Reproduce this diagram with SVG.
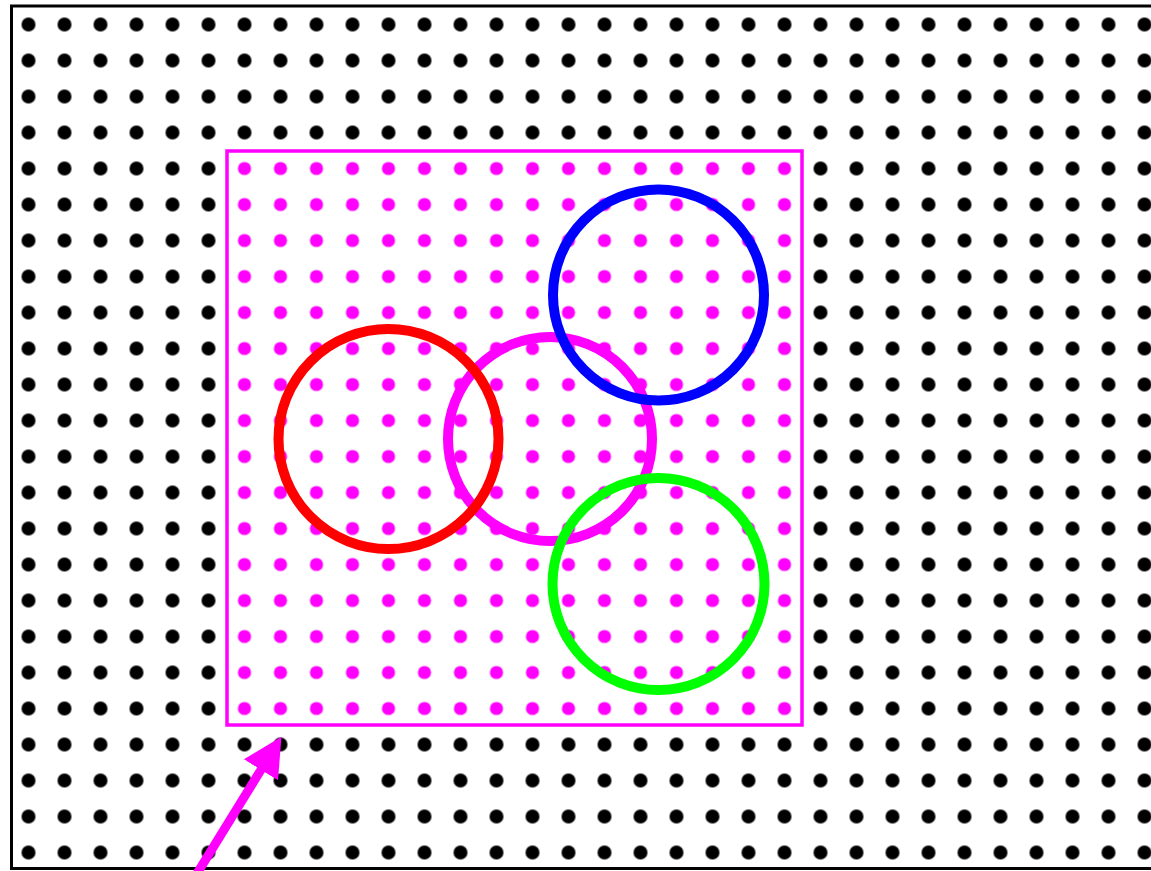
<svg xmlns="http://www.w3.org/2000/svg" width="1151" height="871" viewBox="0 0 1151 871">
  <style>
    .ring { fill: none; stroke-width: 10; }
  </style>
  <defs>
    <pattern id="blackDots" patternUnits="userSpaceOnUse" x="10.5" y="6.5" width="36" height="36">
      <circle cx="18" cy="18" r="7" fill="#000000"/>
    </pattern>
    <pattern id="magentaDots" patternUnits="userSpaceOnUse" x="10.5" y="6.5" width="36" height="36">
      <circle cx="18" cy="18" r="6.6" fill="#ff00ff"/>
    </pattern>
    <marker id="arrowHead" markerUnits="userSpaceOnUse" markerWidth="42" markerHeight="42" refX="1" refY="21" orient="auto" viewBox="0 0 42 42">
      <path d="M0,1 L39,21 L0,41 Z" fill="#ff00ff"/>
    </marker>
  </defs>
  <rect x="0" y="0" width="1151" height="871" fill="#ffffff"/>
  <g id="board">
    <rect x="11.5" y="6" width="1160" height="862.5" fill="url(#blackDots)" stroke="#000000" stroke-width="3"/>
  </g>
  <g id="region">
    <rect x="227" y="151" width="575" height="574" fill="#ffffff"/>
    <rect x="227" y="151" width="575" height="574" fill="url(#magentaDots)" stroke="#ff00ff" stroke-width="3.5"/>
  </g>
  <g id="circle-magenta">
    <circle class="ring" cx="550" cy="439" r="102" stroke="#ff00ff"/>
  </g>
  <g id="circle-red">
    <circle class="ring" cx="388.5" cy="439" r="110" stroke="#ff0000"/>
  </g>
  <g id="circle-blue">
    <circle class="ring" cx="658.5" cy="295" r="105.5" stroke="#0000ff"/>
  </g>
  <g id="circle-green">
    <circle class="ring" cx="658.5" cy="584" r="106" stroke="#00ff00"/>
  </g>
  <g id="connectors">
    <line x1="185" y1="893" x2="261.5" y2="769" stroke="#ff00ff" stroke-width="9" marker-end="url(#arrowHead)"/>
  </g>
</svg>
